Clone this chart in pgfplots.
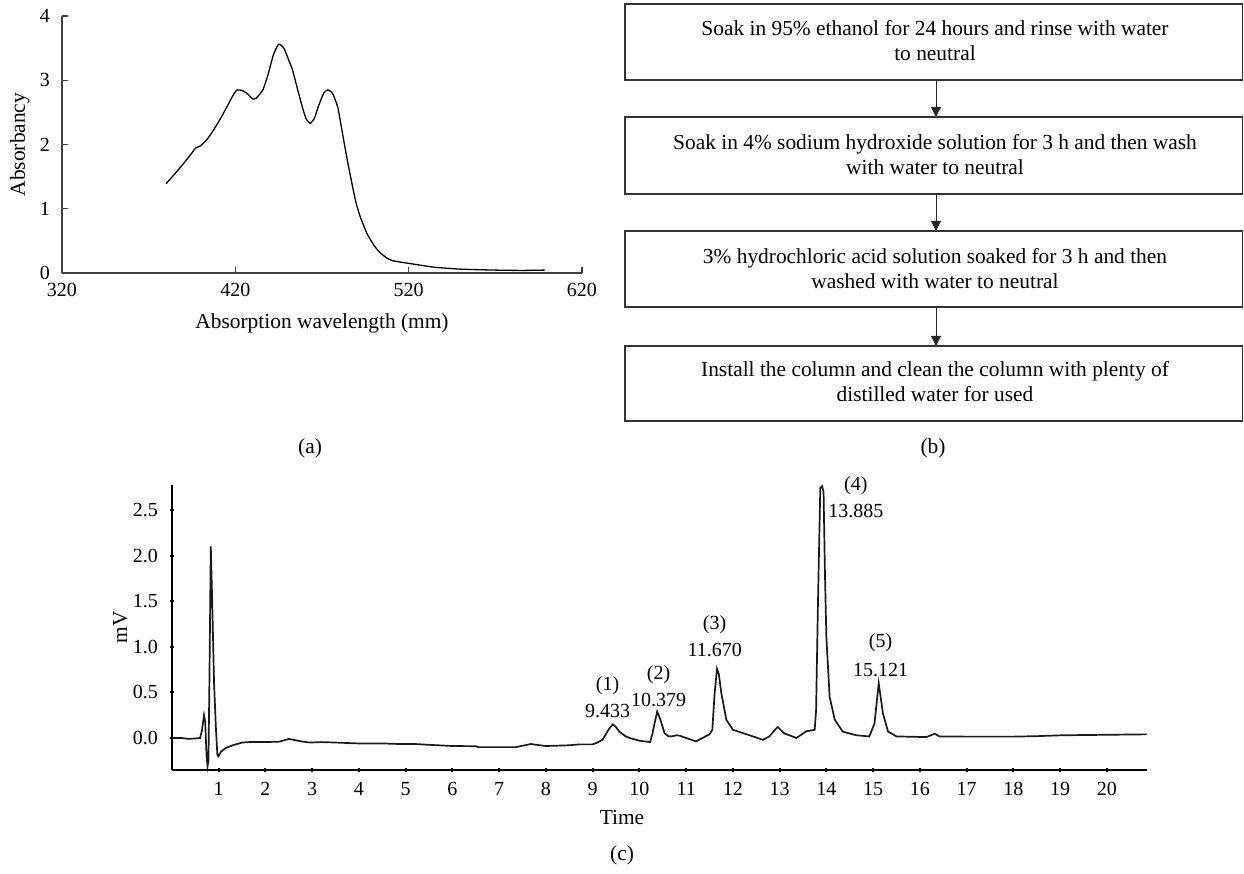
\documentclass[border=0pt]{standalone}
\usepackage{fontspec}
\setmainfont{Liberation Serif}
\usepackage{pgfplots}
\pgfplotsset{compat=1.18}
\usepackage{pgfplotstable}
\usetikzlibrary{arrows.meta}
\newcommand\lab{\fontsize{10.7pt}{12.5pt}\selectfont}

\pgfplotstableread{
x y
380 1.39
385 1.54
390 1.70
395 1.87
397.3 1.95
400 1.98
404 2.09
408 2.25
412 2.43
416 2.63
419 2.78
421 2.85
424 2.84
427 2.79
430 2.71
432 2.72
435.9 2.85
439 3.10
442 3.40
445 3.56
448 3.50
451 3.30
453 3.16
456 2.85
459 2.55
461 2.39
463.2 2.33
465.5 2.40
468 2.60
471 2.80
473.4 2.85
476 2.80
479 2.59
481 2.30
482.5 2.07
485 1.70
489.3 1.13
492 0.88
496 0.61
500 0.43
503 0.33
507 0.24
510.9 0.19
520 0.15
534.8 0.09
550 0.06
570 0.045
585 0.04
598.4 0.045
}\absorb

\pgfplotstableread{
x y
0.00 0.00
0.20 0.00
0.36 -0.01
0.50 -0.005
0.60 0.00
0.64 0.08
0.685 0.25
0.71 0.18
0.74 -0.20
0.76 -0.31
0.78 -0.25
0.80 0.60
0.83 2.10
0.86 1.50
0.90 0.60
0.94 0.10
0.97 -0.18
0.99 -0.20
1.05 -0.15
1.15 -0.11
1.30 -0.08
1.50 -0.05
1.65 -0.045
2.0 -0.045
2.3 -0.04
2.5 -0.01
2.6 -0.02
2.8 -0.04
2.95 -0.05
3.2 -0.045
3.5 -0.05
4.0 -0.06
4.5 -0.06
4.86 -0.066
5.2 -0.066
5.5 -0.075
6.0 -0.088
6.5 -0.09
6.55 -0.10
7.0 -0.10
7.36 -0.10
7.5 -0.085
7.68 -0.066
7.8 -0.075
8.0 -0.088
8.5 -0.08
8.72 -0.07
9.0 -0.07
9.1 -0.05
9.21 -0.02
9.35 0.10
9.43 0.15
9.5 0.12
9.57 0.07
9.7 0.02
9.79 0.00
10.0 -0.03
10.23 -0.045
10.28 0.05
10.32 0.15
10.38 0.29
10.45 0.20
10.54 0.05
10.62 0.02
10.68 0.017
10.8 0.03
10.86 0.025
11.0 0.00
11.21 -0.037
11.35 0.00
11.5 0.04
11.56 0.09
11.61 0.49
11.66 0.76
11.70 0.70
11.75 0.50
11.86 0.20
12.0 0.09
12.21 0.055
12.43 0.017
12.64 -0.02
12.78 0.017
12.9 0.09
12.96 0.12
13.1 0.05
13.21 0.03
13.36 0.00
13.5 0.05
13.57 0.073
13.75 0.09
13.78 0.30
13.82 1.47
13.87 2.74
13.91 2.76
13.94 2.70
13.95 2.40
13.97 1.80
14.0 1.11
14.07 0.45
14.18 0.20
14.35 0.07
14.64 0.03
14.92 0.017
15.03 0.16
15.12 0.60
15.21 0.27
15.32 0.07
15.5 0.017
16.14 0.01
16.32 0.047
16.42 0.017
17.0 0.015
18.0 0.015
18.5 0.02
19.06 0.03
20.0 0.035
20.85 0.04
}\chrom

\begin{document}
\begin{tikzpicture}
\useasboundingbox (0,0) rectangle (622pt,437pt);

% ---------- panel (a)
\begin{axis}[
  at={(31pt,300.5pt)}, anchor=south west,
  scale only axis, width=260pt, height=128.5pt,
  xmin=320, xmax=620, ymin=0, ymax=4,
  axis x line*=bottom, axis y line*=left,
  axis line style={-, draw=black!75, line width=0.7pt},
  tick align=inside, major tick length=3pt,
  tick style={draw=black!75, line width=0.6pt},
  xtick={320,420,520,620}, ytick={0,1,2,3,4},
  /pgf/number format/assume math mode=true,
  xticklabel style={yshift=-1.5pt},
  yticklabel style={xshift=-2.5pt},
  xlabel={Absorption wavelength (mm)},
  ylabel={Absorbancy},
  every axis x label/.style={at={(axis description cs:0.5,-0.195)}, anchor=center, font=\lab},
  every axis y label/.style={at={(axis description cs:-0.081,0.5)}, rotate=90, anchor=center, font=\lab},
]
\addplot[black, line width=0.65pt, smooth, tension=0.3] table {\absorb};
\end{axis}

% ---------- panel (c)
\begin{axis}[
  at={(86pt,52pt)}, anchor=south west,
  scale only axis, width=487.5pt, height=142.5pt,
  xmin=0, xmax=20.86, ymin=-0.351, ymax=2.774,
  clip=false,
  axis x line*=bottom, axis y line*=left,
  axis line style={-, draw=black, line width=1pt},
  tick align=center, major tick length=2pt,
  tick style={draw=black, line width=1pt},
  xtick={1,...,20}, ytick={0,0.5,1,1.5,2,2.5},
  /pgf/number format/assume math mode=true,
  yticklabel style={xshift=-2.5pt, /pgf/number format/.cd, fixed, fixed zerofill, precision=1},
  xticklabel style={yshift=-1.5pt},
  xlabel={Time},
  ylabel={mV},
  every axis x label/.style={at={(axis description cs:0.4615,-0.165)}, anchor=center, font=\lab},
  every axis y label/.style={at={(axis description cs:-0.053,0.5)}, rotate=90, anchor=center, font=\lab},
]
\addplot[black!90, line width=0.85pt] table {\chrom};
\node at (axis cs:9.32,0.57) {(1)};
\node at (axis cs:9.32,0.30) {9.433};
\node at (axis cs:10.41,0.69) {(2)};
\node at (axis cs:10.41,0.42) {10.379};
\node at (axis cs:11.61,1.24) {(3)};
\node at (axis cs:11.61,0.96) {11.670};
\node at (axis cs:14.63,2.77) {(4)};
\node at (axis cs:14.63,2.49) {13.885};
\node at (axis cs:15.16,1.04) {(5)};
\node at (axis cs:15.16,0.75) {15.121};
\end{axis}

% ---------- panel (b) flowchart and panel letters, in pixel coordinates
\begin{scope}[x=0.5pt,y=-0.5pt,yshift=437pt]
  \tikzset{box/.style={draw=black!80, line width=0.6pt},
           txt/.style={align=center, inner sep=0pt, font=\lab}}
  \draw[box] (625,4) rectangle (1242.5,80);
  \draw[box] (625,117) rectangle (1242.5,194);
  \draw[box] (625,231) rectangle (1242.5,307);
  \draw[box] (625,346) rectangle (1242.5,421);
  \node[txt] at (935,40.5) {Soak in 95\% ethanol for 24 hours and rinse with water\\to neutral};
  \node[txt] at (935,154.5) {Soak in 4\% sodium hydroxide solution for 3 h and then wash\\with water to neutral};
  \node[txt] at (935,269) {3\% hydrochloric acid solution soaked for 3 h and then\\washed with water to neutral};
  \node[txt] at (935,382) {Install the column and clean the column with plenty of\\distilled water for used};
  \foreach \a/\b in {80/117,194/231,307/346}
    \draw[black!85, line width=0.5pt, -{Triangle[length=5pt,width=5pt]}] (936,\a) -- (936,\b);
  \node[font=\lab] at (310,448) {(a)};
  \node[font=\lab] at (933,448) {(b)};
  \node[font=\lab] at (622,855) {(c)};
\end{scope}
\end{tikzpicture}
\end{document}
